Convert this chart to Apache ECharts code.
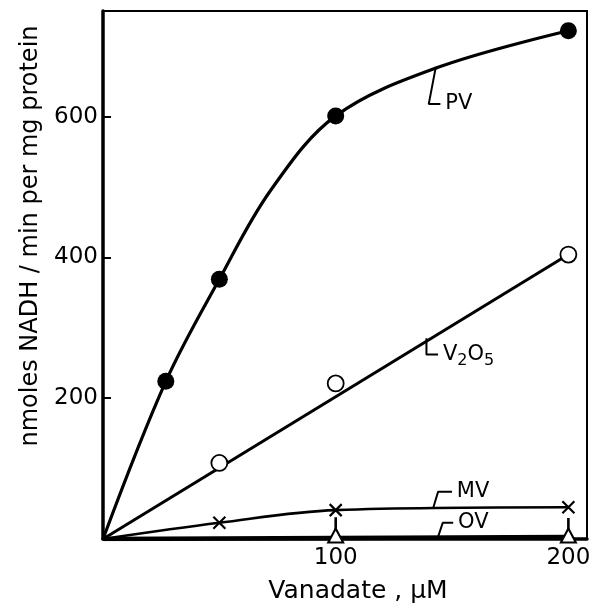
<!DOCTYPE html>
<html>
<head>
<meta charset="utf-8">
<script src="https://cdn.jsdelivr.net/npm/echarts@6/dist/echarts.min.js"></script>
<style type="text/css">
    html, body { margin: 0; padding: 0; background: #fff; }
    #ECharts { width: 594px; height: 613px; }
</style>
</head>
<body>
<div id="ECharts"></div>
<script type="text/javascript">
    // values (vanadate uM -> nmoles NADH / min per mg protein)
    var pvX = [27, 50, 100, 200];
    var pvY = [224, 369, 601, 722];
    // the drawn PV curve
    var pvCurveX = [0, 27, 50, 72, 100, 144, 200];
    var pvCurveY = [0, 224, 369, 495, 601, 670, 722];
    var v2o5X = [50, 100, 200];
    var v2o5Y = [108, 221, 404];
    var v2o5FitEnd = [200, 404];
    var mvX = [50, 100, 200];
    var mvY = [23, 41, 45];
    var ovX = [100, 200];
    var ovY = [5, 5];
    var ovLineEnd = [200, 3];

    // little arrows above the OV triangles
    var arrowX = [100, 200];
    var arrowFrom = [14, 12];
    var arrowTo = [31, 30];

    // curve labels with their hooked leader lines
    var pvLeader = [[143, 670], [140, 618], [145, 618]];
    var v2o5Leader = [[139, 285], [139, 262], [144, 262]];
    var mvLeader = [[142, 45], [144, 67], [150, 67]];
    var ovLeader = [[144, 3], [146, 23], [150.5, 23]];
    var labelPos = [[146, 618], [145, 262], [151, 67], [151.5, 23]];
    var labelText = ['PV', '{a|V}{s|2}{a|O}{s|5}', 'MV', 'OV'];

    function pairs(xs, ys) {
        var out = [];
        for (var i = 0; i < xs.length; i++) {
            out.push([xs[i], ys[i]]);
        }
        return out;
    }

    var font = 'DejaVu Sans';
    var lineSeries = function (data, w, smooth) {
        return {
            type: 'line',
            data: data,
            smooth: smooth,
            showSymbol: false,
            symbol: 'none',
            silent: true,
            lineStyle: {color: '#000', width: w, opacity: 1},
            z: 3
        };
    };

    var series = [];
    series.push(lineSeries(pairs(pvCurveX, pvCurveY), 3.2, 0.35));
    series.push(lineSeries([[0, 0], v2o5FitEnd], 3, false));
    series.push(lineSeries([[0, 0]].concat(pairs(mvX, mvY)), 2.6, 0.35));
    series.push(lineSeries([[0, 0], ovLineEnd], 4.5, false));

    [pvLeader, v2o5Leader, mvLeader, ovLeader].forEach(function (l) {
        series.push(lineSeries(l, 2, false));
    });
    for (var a = 0; a < arrowX.length; a++) {
        series.push(lineSeries([[arrowX[a], arrowFrom[a]], [arrowX[a], arrowTo[a]]], 2.6, false));
    }

    series.push({
        type: 'scatter', data: pairs(pvX, pvY), symbol: 'circle', symbolSize: 17,
        itemStyle: {color: '#000', opacity: 1}, z: 5
    });
    series.push({
        type: 'scatter', data: pairs(v2o5X, v2o5Y), symbol: 'circle', symbolSize: 16,
        itemStyle: {color: '#fff', borderColor: '#000', borderWidth: 1.8, opacity: 1}, z: 5
    });
    series.push({
        type: 'scatter', data: pairs(mvX, mvY), symbol: 'path://M0,0L10,10M10,0L0,10', symbolSize: 12,
        itemStyle: {color: 'none', borderColor: '#000', borderWidth: 2.2, opacity: 1}, z: 5
    });
    series.push({
        type: 'scatter', data: pairs(ovX, ovY), symbol: 'triangle', symbolSize: [15, 14],
        itemStyle: {color: '#fff', borderColor: '#000', borderWidth: 2, opacity: 1}, z: 5
    });

    var labelData = [];
    for (var k = 0; k < labelPos.length; k++) {
        labelData.push({value: labelPos[k], text: labelText[k]});
    }
    series.push({
        type: 'scatter', data: labelData, symbolSize: 1, silent: true,
        itemStyle: {color: 'rgba(0,0,0,0)', opacity: 1},
        label: {
            show: true, position: 'right', distance: 2,
            color: '#000', fontFamily: font, fontSize: 21,
            formatter: function (p) { return p.data.text; },
            rich: {
                a: {fontFamily: font, fontSize: 21, color: '#000'},
                s: {fontFamily: font, fontSize: 16, color: '#000', padding: [12, 0, 0, 0]}
            }
        },
        z: 6
    });

    var myChart = echarts.init(document.getElementById('ECharts'));
    var option = {
        backgroundColor: '#fff',
        animation: false,
        grid: {
            left: 103, right: 7, top: 11, bottom: 74,
            show: true, borderColor: '#000', borderWidth: 2
        },
        xAxis: {
            type: 'value', min: 0, max: 208, interval: 100,
            name: 'Vanadate , μM', nameLocation: 'middle', nameGap: 40,
            nameTextStyle: {fontFamily: font, fontSize: 25, color: '#000', padding: [0, 0, 0, 26]},
            axisLine: {lineStyle: {color: '#000', width: 3.5}},
            axisTick: {inside: true, length: 7, lineStyle: {color: '#000', width: 2}},
            axisLabel: {
                fontFamily: font, fontSize: 23, color: '#000', margin: 8,
                formatter: function (v) { return (v > 0 && v % 100 === 0) ? v : ''; }
            },
            splitLine: {show: false}
        },
        yAxis: {
            type: 'value', min: 0, max: 750, interval: 200,
            name: 'nmoles NADH / min per mg protein', nameLocation: 'middle', nameGap: 60,
            nameTextStyle: {fontFamily: font, fontSize: 24, color: '#000', padding: [0, 0, 0, 78]},
            axisLine: {lineStyle: {color: '#000', width: 3.5}},
            axisTick: {inside: true, length: 8, lineStyle: {color: '#000', width: 2}},
            axisLabel: {
                fontFamily: font, fontSize: 23, color: '#000', margin: 5,
                formatter: function (v) { return (v > 0 && v % 200 === 0) ? v : ''; }
            },
            splitLine: {show: false}
        },
        series: series
    };
    myChart.setOption(option);
</script>
</body>
</html>
